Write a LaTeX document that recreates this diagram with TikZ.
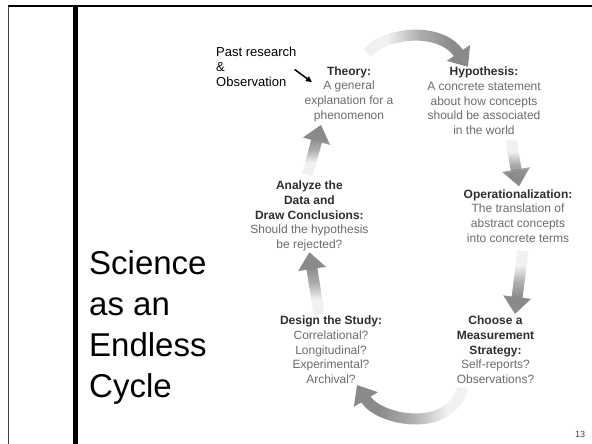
\documentclass[tikz,border=0pt]{standalone}
\usepackage{fontspec}
\setmainfont{Liberation Sans}
\usetikzlibrary{arrows.meta,fadings}

\definecolor{headgray}{HTML}{2E2E2E}
\definecolor{descgray}{HTML}{6B6B6B}
\definecolor{flowgray}{HTML}{8A8A8A}

\tikzfading[name=tail north, top color=transparent!88, bottom color=transparent!0, middle color=transparent!30]
\tikzfading[name=tail south, top color=transparent!0, bottom color=transparent!88, middle color=transparent!30]
\tikzfading[name=tail west, left color=transparent!88, right color=transparent!0, middle color=transparent!30]
\tikzfading[name=tail east, left color=transparent!0, right color=transparent!88, middle color=transparent!30]

\newcommand{\stagehead}[1]{\textcolor{headgray}{\textbf{#1}}}

\begin{document}
\begin{tikzpicture}[x=1pt,y=1pt]

    \tikzset{
      stage/.style={
        align=center,
        inner sep=0pt,
        text=descgray,
        font=\fontsize{12}{14.7}\selectfont,
      },
      bigtitle/.style={
        align=left,
        inner sep=0pt,
        font=\fontsize{33}{41}\selectfont,
      },
      pastnote/.style={
        align=left,
        inner sep=0pt,
        font=\fontsize{13}{15}\selectfont,
      },
      flow/.style={
        draw=flowgray,
        line width=11pt,
        -{Triangle[width=27pt,length=17pt]},
      },
      fade/.style={
        fit fading=false,
        path fading=#1,
      },
      pointer/.style={
        line width=1.5pt,
        -{Triangle[width=5.5pt,length=6pt]},
      },
    }
    \useasboundingbox (0,0) rectangle (592,444);
	% slide frame
	\draw[line width=2pt] (8,438) -- (592,438);
	\draw[line width=1.3pt, black!75] (8.5,438) -- (8.5,0);
	\draw[line width=4.5pt] (75.5,439) -- (75.5,0);

	\node[bigtitle, anchor=north west] (title) at (89,193.5) {Science\\as an\\Endless\\Cycle};
	\node[font=\fontsize{9}{10}\selectfont, text=black!75, anchor=base] (pageno) at (580,6) {13};

	% stages of the cycle
	\node[stage] (theory) at (349,350) {\stagehead{Theory:}\\A general\\explanation for a\\phenomenon};
	\node[stage] (hypothesis) at (484,343) {\stagehead{Hypothesis:}\\A concrete statement\\about how concepts\\should be associated\\in the world};
	\node[stage] (operational) at (518,228) {\stagehead{Operationalization:}\\The translation of\\abstract concepts\\into concrete terms};
	\node[stage] (measure) at (495.5,94) {\stagehead{Choose a}\\\stagehead{Measurement}\\\stagehead{Strategy:}\\Self-reports?\\Observations?};
	\node[stage] (design) at (331,94) {\stagehead{Design the Study:}\\Correlational?\\Longitudinal?\\Experimental?\\Archival?};
	\node[stage] (analyze) at (309.4,228) {\stagehead{Analyze the}\\\stagehead{Data and}\\\stagehead{Draw Conclusions:}\\Should the hypothesis\\be rejected?};

	\node[pastnote, anchor=north west] (past) at (216,397.5) {Past research\\\&\\Observation};
	\draw[pointer] ([shift={(-2,-3)}]past.east) -- ([shift={(7.5,-16)}]theory.north west);

	% arrows of the cycle
	\draw[flow, fade=tail west, fading transform={shift={(420,395)},xscale=1.3}]
	  ([shift={(18,13)}]theory.north) .. controls +(18,21) and +(-28,41) .. ([xshift=-16pt]hypothesis.north);
	\draw[flow, fade=tail north, fading transform={shift={(515,280)},yscale=0.5}]
	  ([shift={(27,-5)}]hypothesis.south) -- ([shift={(1,3)}]operational.north);
	\draw[flow, fade=tail north, fading transform={shift={(519,162)},yscale=0.65}]
	  ([shift={(5,-8)}]operational.south) -- ([shift={(19.5,2)}]measure.north);
	\draw[flow, fade=tail east, fading transform={shift={(412,40)},xscale=1.4}]
	  ([shift={(-33,-4)}]measure.south) .. controls +(-12.5,-46) and +(22,-36) .. ([shift={(26,-1)}]design.south);
	\draw[flow, fade=tail south, fading transform={shift={(314,161)},yscale=0.65}]
	  ([shift={(-12,2)}]design.north) -- ([yshift=-1pt]analyze.south);
	\draw[flow, fade=tail south, fading transform={shift={(314,294)},yscale=0.5}]
	  ([shift={(-2,6)}]analyze.north) -- ([shift={(-28,-3)}]theory.south);

\end{tikzpicture}
\end{document}
